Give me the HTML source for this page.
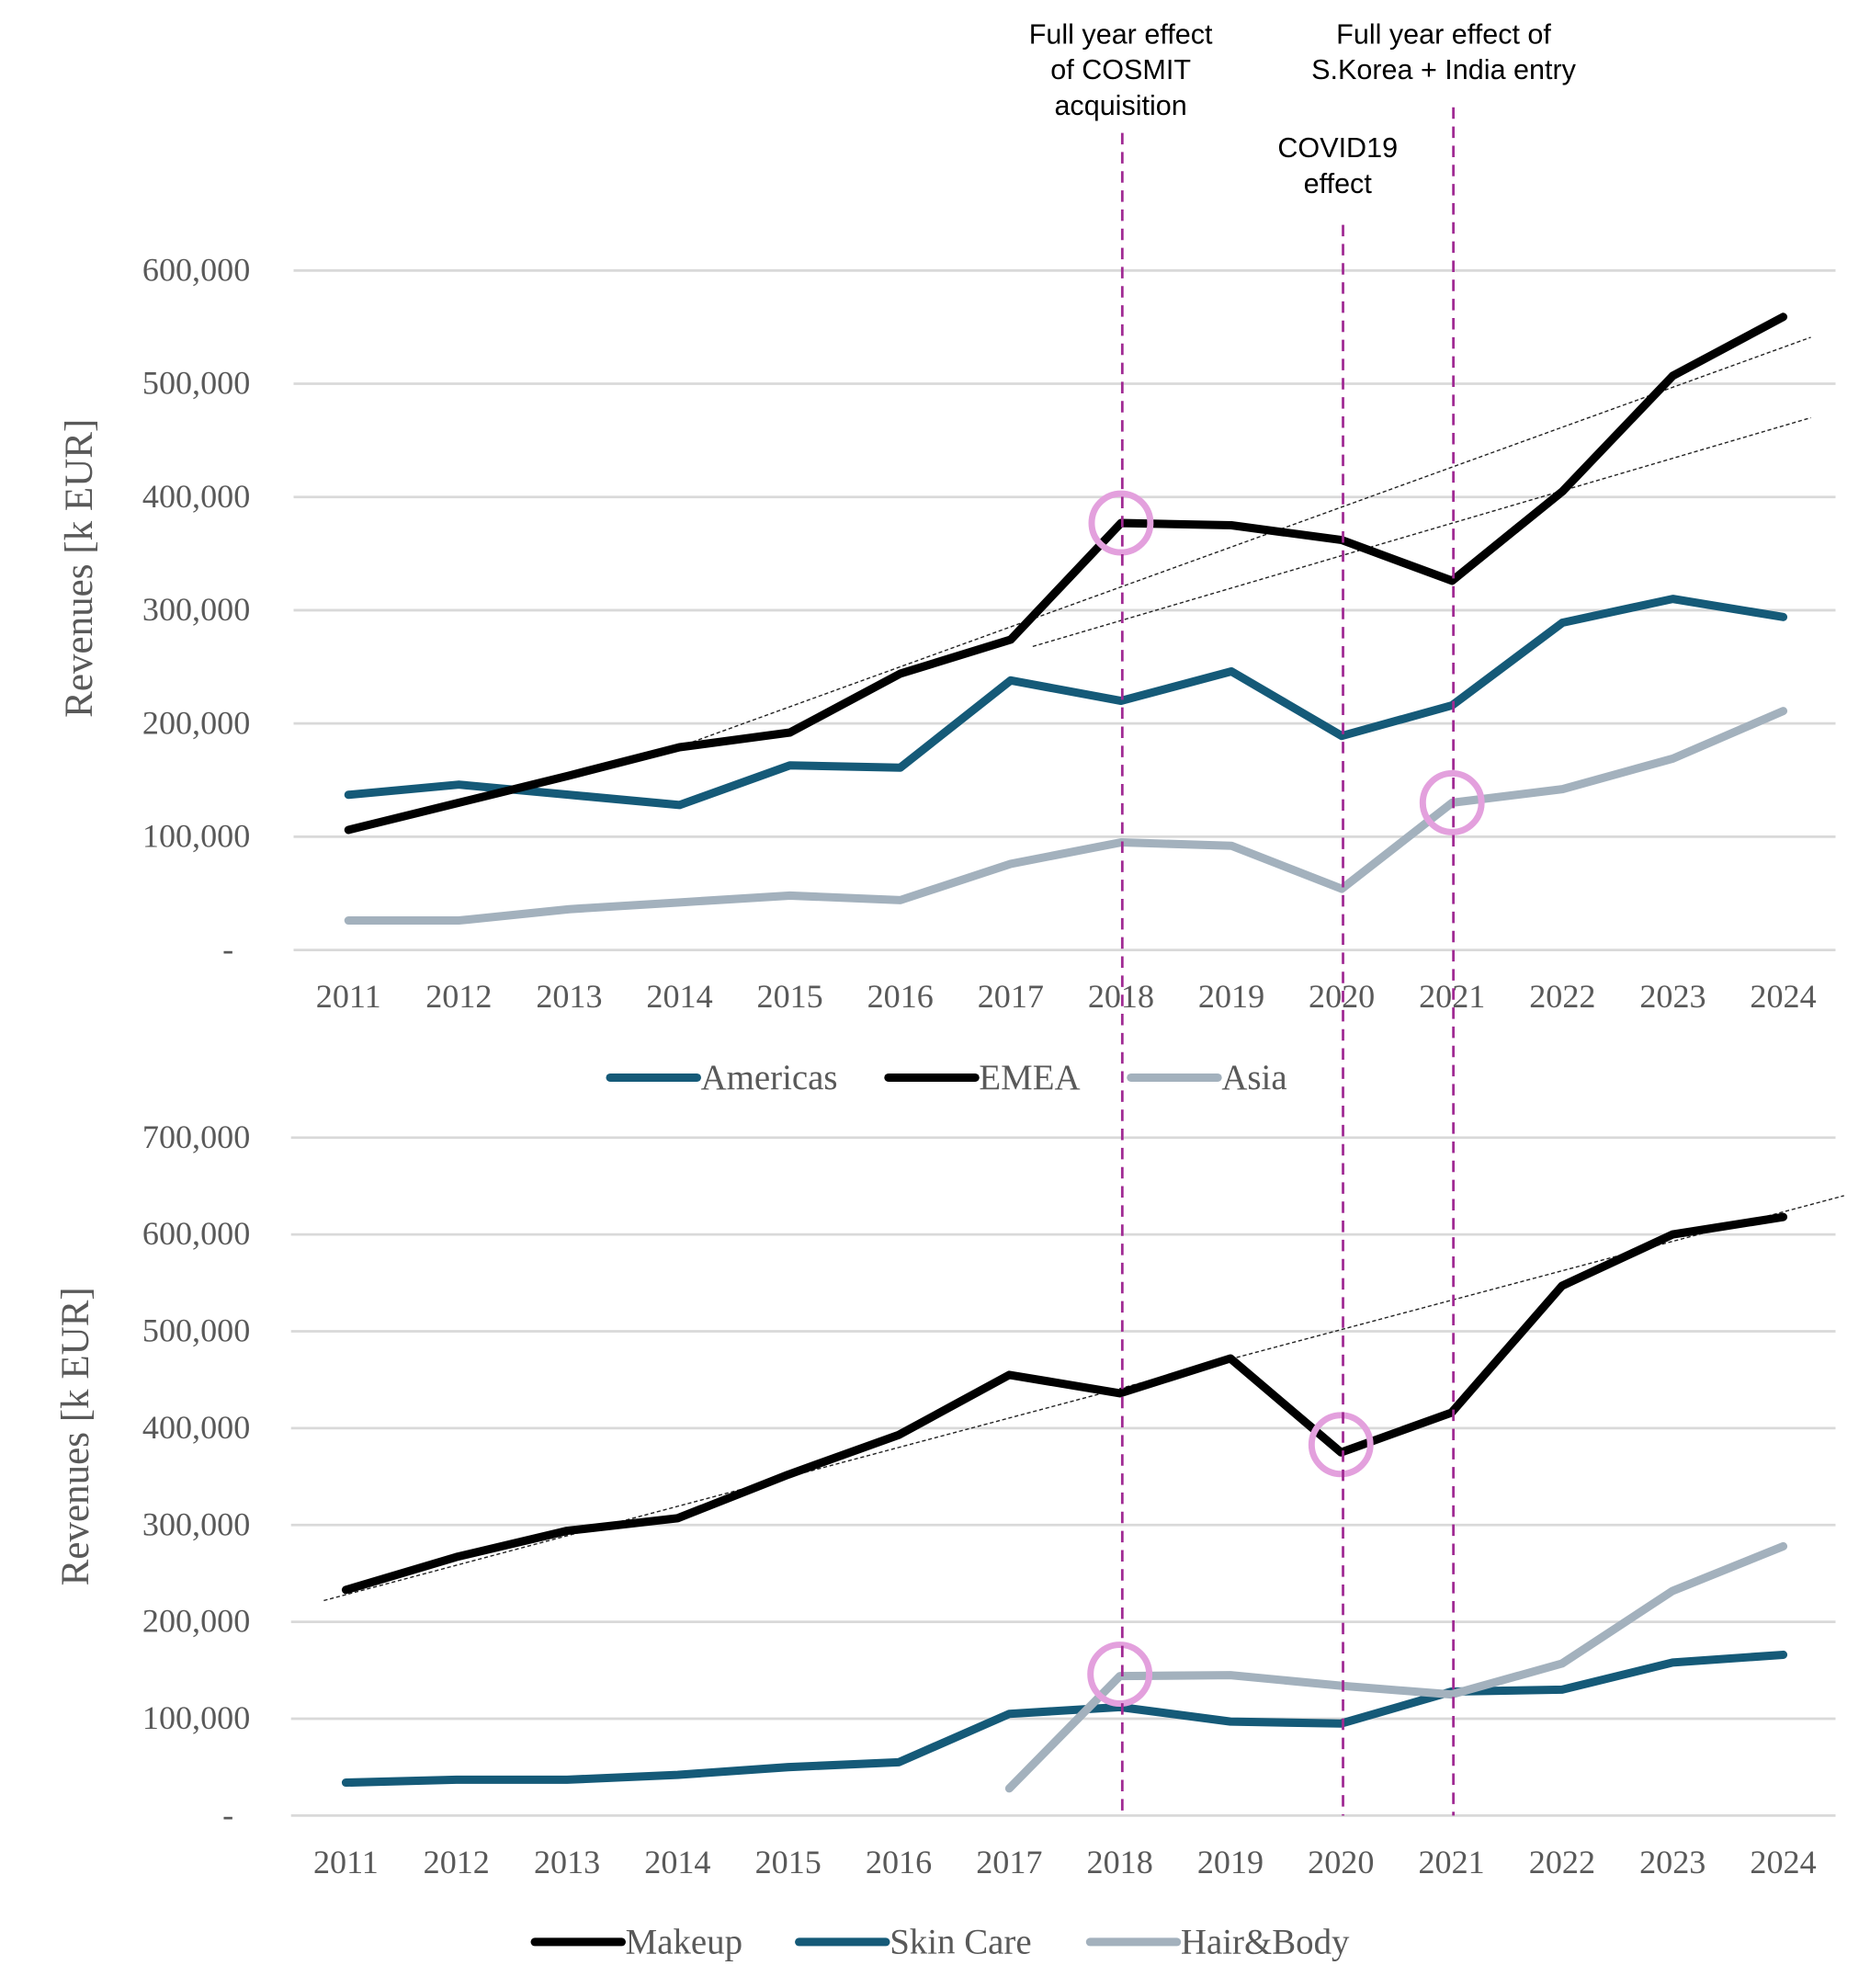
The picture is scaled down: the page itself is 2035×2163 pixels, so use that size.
<!DOCTYPE html>
<html><head><meta charset="utf-8"><style>
html,body{margin:0;padding:0;background:#fff}
svg{display:block}
.tk{font-family:"Liberation Serif",serif;fill:#595959;font-size:26px}
.an{font-family:"Liberation Sans",sans-serif;fill:#000;font-size:22px}
</style></head><body>
<svg id="chart" width="2035" height="2163" viewBox="0 0 1465 1557" xmlns="http://www.w3.org/2000/svg">
<g id="top"></g>
<g id="bot"></g>
<g id="ann"></g>
</svg>
<script>
const years = [2011,2012,2013,2014,2015,2016,2017,2018,2019,2020,2021,2022,2023,2024];
const americas = [137,146,137,128,163,161,238,220,246,189,216,289,310,294];
const emea = [106,130,154,179,192,244,274,377,375,362,326,405,507,559];
const asia = [26,26,36,42,48,44,76,95,92,54,130,142,169,211];
const topTicks = ["-","100,000","200,000","300,000","400,000","500,000","600,000"];
const makeup = [233,267,294,307,352,393,455,436,472,375,416,547,600,618];
const skinCare = [34,37,37,42,50,55,105,112,97,95,128,130,158,166];
const hairBody = [null,null,null,null,null,null,28,144,145,134,125,157,232,278];
const botTicks = ["-","100,000","200,000","300,000","400,000","500,000","600,000","700,000"];
const topTrends = [[2013.9,176,2024.25,541],[2017.2,268,2024.25,470]];
const botTrend = [2010.8,222,2024.55,640];
const markerYears = [2018,2020,2021];
const topCircles = [[2018,377],[2021,130]];
const botCircles = [[2020,383],[2018,146]];

const NS="http://www.w3.org/2000/svg";
function mk(p,tag,attrs){const e=document.createElementNS(NS,tag);for(const k in attrs)e.setAttribute(k,attrs[k]);p.appendChild(e);return e;}
const C_AM="#155a78", C_AS="#a3b1bd", C_PINK="#e3a0dd", C_VL="#a02a93";

function chart(g,cfg){
  const x=yr=>cfg.x0+(yr-2011)*(cfg.x1-cfg.x0)/13;
  const y=v=>cfg.y0-v*cfg.k;
  cfg.ticks.forEach((t,i)=>{
    const gl=mk(g,'line',{x1:cfg.gl0,x2:1438,y1:y(i*100),y2:y(i*100),stroke:'#d9d9d9','stroke-width':2});
    
    
    const tx=mk(g,'text',{x:i==0?183:196,y:y(i*100)+8,'text-anchor':'end',class:'tk'});
    
    
    tx.textContent=t;
  });
  years.forEach(yr=>{
    const tx=mk(g,'text',{x:x(yr),y:cfg.xl,'text-anchor':'middle',class:'tk'});
    
    
    tx.textContent=yr;
  });
  const yt=mk(g,'text',{x:0,y:0,transform:`translate(${cfg.ytx},${cfg.yty}) rotate(-90)`,'text-anchor':'middle',class:'tk',style:'font-size:31px'});
  
  
  yt.textContent='Revenues [k EUR]';
  cfg.trends.forEach(t=>{
    const l=mk(g,'line',{x1:x(t[0]),y1:y(t[1]),x2:x(t[2]),y2:y(t[3]),stroke:'#222','stroke-width':1,'stroke-dasharray':'3 2'});
    
    
  });
  cfg.series.forEach(s=>{
    let d='';let started=false;
    s.v.forEach((v,i)=>{if(v==null)return;d+=(started?'L':'M')+x(years[i])+','+y(v);started=true;});
    const p=mk(g,'path',{d:d,fill:'none',stroke:s.c,'stroke-width':6.5,'stroke-linejoin':'round','stroke-linecap':'round'});
    
    
  });
  cfg.circles.forEach(c=>{
    const e=mk(g,'circle',{cx:x(c[0]),cy:y(c[1]),r:23,fill:'none',stroke:C_PINK,'stroke-width':5});
    
    
  });
  cfg.legend.forEach(l=>{
    const ln=mk(g,'line',{x1:l.x,x2:l.x+68,y1:cfg.ly,y2:cfg.ly,stroke:l.c,'stroke-width':6.5,'stroke-linecap':'round'});
    
    
    const t=mk(g,'text',{x:l.x+71,y:cfg.ly+9,class:'tk',style:'font-size:28px'});
    
    
    t.textContent=l.t;
  });
  return x;
}
const xt=chart(document.getElementById('top'),{x0:273,x1:1397,y0:744,k:0.887,gl0:230,xl:789,ticks:topTicks,ytx:72,yty:445,
  trends:topTrends,
  series:[{n:'americas',v:americas,c:C_AM},{n:'emea',v:emea,c:'#000'},{n:'asia',v:asia,c:C_AS}],
  circles:topCircles,ly:844,
  legend:[{x:478,c:C_AM,t:'Americas'},{x:696,c:'#000',t:'EMEA'},{x:886,c:C_AS,t:'Asia'}]});
chart(document.getElementById('bot'),{x0:271,x1:1397,y0:1422,k:0.7586,gl0:228,xl:1467,ticks:botTicks,ytx:69,yty:1125,
  trends:[botTrend],
  series:[{n:'skin-care',v:skinCare,c:C_AM},{n:'hair-body',v:hairBody,c:C_AS},{n:'makeup',v:makeup,c:'#000'}],
  circles:botCircles,ly:1521,
  legend:[{x:419,c:'#000',t:'Makeup'},{x:626,c:C_AM,t:'Skin Care'},{x:854,c:C_AS,t:'Hair&Body'}]});
const ann=document.getElementById('ann');
const vtops={2018:104,2020:176,2021:84};
markerYears.forEach(yr=>{
  const l=mk(ann,'line',{x1:xt(yr)+1,x2:xt(yr)+1,y1:vtops[yr],y2:1422,stroke:C_VL,'stroke-width':2,'stroke-dasharray':'9 6'});
  
  
});
[[878,26,'Full year effect'],[878,54,'of COSMIT'],[878,82,'acquisition'],[1131,26,'Full year effect of'],[1131,54,'S.Korea + India entry'],[1048,115,'COVID19'],[1048,143,'effect']].forEach(a=>{
  const t=mk(ann,'text',{x:a[0],y:a[1]+8,'text-anchor':'middle',class:'an'});
  
  
  t.textContent=a[2];
});
</script>
</body></html>
